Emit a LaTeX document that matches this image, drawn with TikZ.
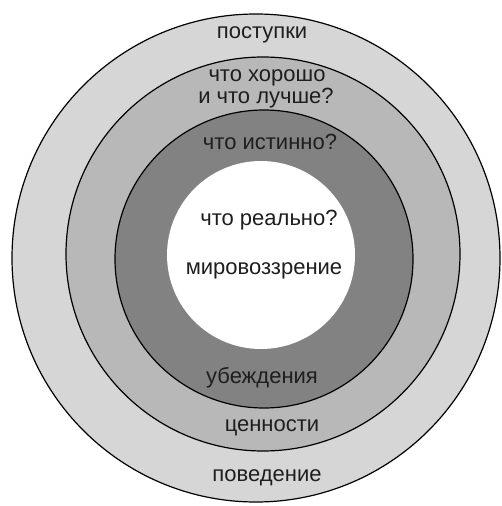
\documentclass[tikz,border=0pt]{standalone}
\usepackage{fontspec}
\setmainfont{Liberation Sans}
\definecolor{ringA}{HTML}{D6D6D6}
\definecolor{ringB}{HTML}{B8B8B8}
\definecolor{ringC}{HTML}{828282}
\definecolor{txt}{HTML}{1E1E1E}
\begin{document}
\begin{tikzpicture}[x=1pt,y=-1pt,
  ring/.style={circle,inner sep=0pt,draw=black,line width=1.2pt},
  lbl/.style={text=txt,font=\fontsize{22}{24}\selectfont,inner sep=0pt,anchor=center}]
\useasboundingbox (0,0) rectangle (502,506);
\fill[white] (0,0) rectangle (502,506);
\node[ring,fill=ringA,minimum size=488pt] (outer) at (256,258) {};
\node[ring,fill=ringB,minimum size=394pt] (values) at (263,254) {};
\node[ring,fill=ringC,minimum size=298pt] (beliefs) at (264,259) {};
\node[circle,inner sep=0pt,fill=white,minimum size=188pt] (core) at (261,255) {};
\node[lbl] (t1) at (262,35) {поступки};
\node[lbl] (t2) at (267,78) {что хорошо};
\node[lbl] (t3) at (266,98) {и что лучше?};
\node[lbl] (t4) at (270,142) {что истинно?};
\node[lbl] (t5) at (269,220) {что реально?};
\node[lbl] (t6) at (264,271) {мировоззрение};
\node[lbl] (t7) at (262,378) {убеждения};
\node[lbl] (t8) at (272,428) {ценности};
\node[lbl] (t9) at (267,478) {поведение};
\end{tikzpicture}
\end{document}
